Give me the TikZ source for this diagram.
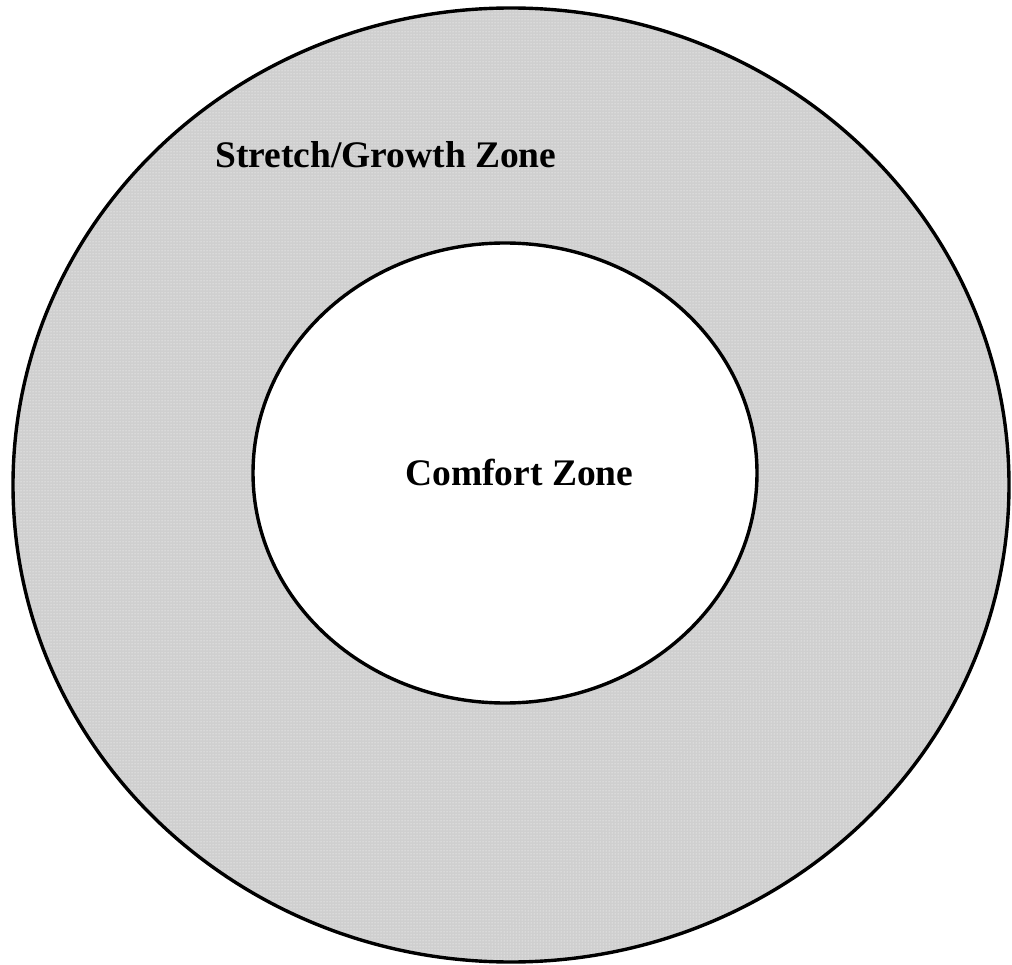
\documentclass[tikz,border=0pt]{standalone}
\usepackage{fontspec}
\setmainfont{Liberation Serif}
\usepackage{tikz}
\usetikzlibrary{patterns}

\begin{document}
\begin{tikzpicture}[x=1pt, y=-1pt,
		zonelabel/.style={font=\fontsize{37.5}{44}\selectfont\bfseries, inner sep=0pt}]
	\useasboundingbox (0,0) rectangle (1012,965);
	% Outer zone (stretch/growth), dotted grey fill
	\fill[gray!38] (511,485) ellipse [x radius=498, y radius=477];
	\fill[pattern=dots, pattern color=white] (511,485) ellipse [x radius=498, y radius=477];
	\draw[line width=3.4pt] (511,485) ellipse [x radius=498, y radius=477];
	
	% Inner zone (comfort)
	\filldraw[fill=white, line width=3.4pt] (505,473) ellipse [x radius=252, y radius=230];
	
	% Labels
	\node[zonelabel, anchor=base west] (stretch) at (215,168) {Stretch/Growth Zone};
	\node[zonelabel, anchor=base west] (comfort) at (405,485) {Comfort Zone};
\end{tikzpicture}
\end{document}
